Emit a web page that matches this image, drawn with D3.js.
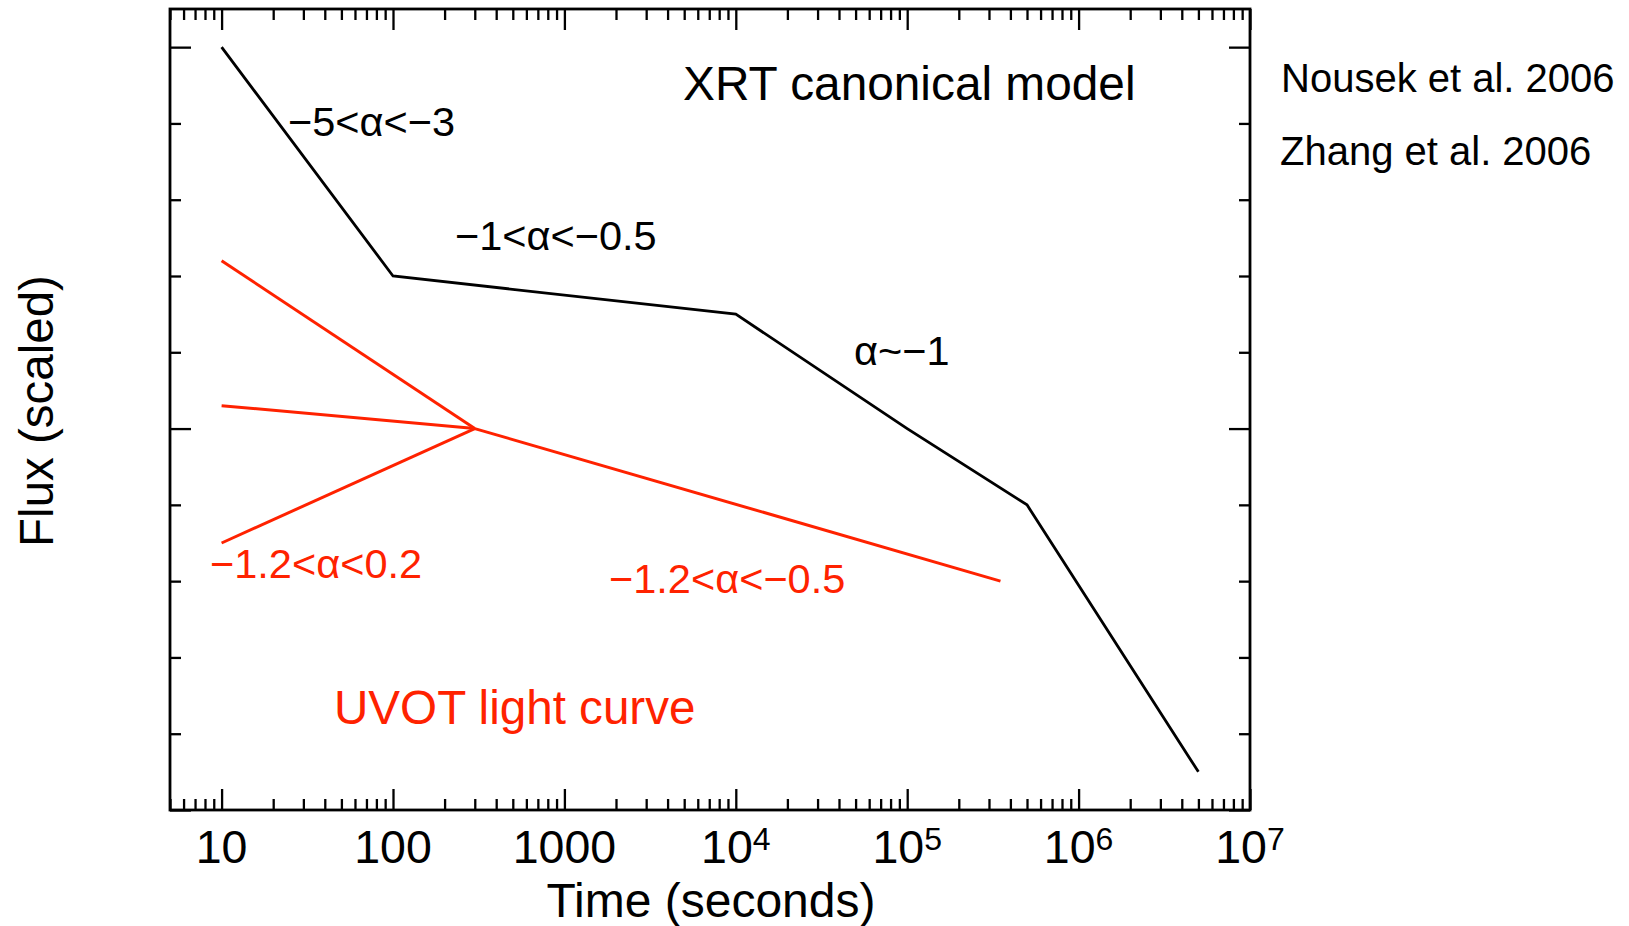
<!DOCTYPE html>
<html>
<head>
<meta charset="utf-8">
<script src="https://cdn.jsdelivr.net/npm/d3@7"></script>
<style>
  html, body { margin: 0; padding: 0; background: #fff; }
  svg { display: block; font-family: "Liberation Sans", Arial, Helvetica, sans-serif; }
</style>
</head>
<body>
<svg id="chart" width="1629" height="926"></svg>
<script>
// X-ray (XRT) canonical light curve: break times and log-flux levels
const xrtTime = [10, 100, 1e4, 1e5, 5e5, 5e6];
const xrtFlux = [10.0, 7.0, 6.5, 5.0, 4.0, 0.5];

// Optical/UV (UVOT) light curve: three early branches meeting at one point, then a single decay
const uvotEarlyTime = [10, 300];
const uvotFadingFlux = [7.2, 5.0];
const uvotFlatFlux = [5.3, 5.0];
const uvotRisingFlux = [3.5, 5.0];
const uvotLateTime = [300, 3.5e5];
const uvotLateFlux = [5.0, 3.0];

// Axis ticks
const xMajorTicks = [10, 100, 1000, 1e4, 1e5, 1e6, 1e7];
const xTickBase = ["10", "100", "1000", "10", "10", "10", "10"];
const xTickExp = ["", "", "", "4", "5", "6", "7"];
const yTicks = [0, 1, 2, 3, 4, 5, 6, 7, 8, 9, 10];
const yMajorTicks = [0, 5, 10];

const RED = "#ff2200";
const svg = d3.select("#chart");

const plotLeft = 170, plotRight = 1250, plotTop = 9, plotBottom = 810;
const x = d3.scaleLog().domain([5, 1e7]).range([plotLeft, plotRight]);
const y = d3.scaleLinear().domain([0, 10.5]).range([plotBottom, plotTop]);

const MAJOR = 21, MINOR = 11;
const xMinorTicks = x.ticks().filter(t => !xMajorTicks.some(m => Math.abs(m - t) / m < 1e-9));
const yMinorTicks = yTicks.filter(t => !yMajorTicks.includes(t));

function styleAxis(g) {
  g.select(".domain").remove();
  g.selectAll(".tick line").attr("stroke", "#000").attr("stroke-width", 2.3);
}

// inward ticks on all four sides: long at major values, short at minor values
const sides = [
  { make: d3.axisBottom, scale: x, t: `translate(0,${plotBottom})`, majors: xMajorTicks, minors: xMinorTicks },
  { make: d3.axisTop, scale: x, t: `translate(0,${plotTop})`, majors: xMajorTicks, minors: xMinorTicks },
  { make: d3.axisLeft, scale: y, t: `translate(${plotLeft},0)`, majors: yMajorTicks, minors: yMinorTicks },
  { make: d3.axisRight, scale: y, t: `translate(${plotRight},0)`, majors: yMajorTicks, minors: yMinorTicks }
];
sides.forEach(s => {
  svg.append("g").attr("transform", s.t)
    .call(s.make(s.scale).tickValues(s.majors).tickSize(-MAJOR).tickFormat(() => ""))
    .call(styleAxis);
  svg.append("g").attr("transform", s.t)
    .call(s.make(s.scale).tickValues(s.minors).tickSize(-MINOR).tickFormat(() => ""))
    .call(styleAxis);
});

// tick labels with superscript exponents
const labelG = svg.append("g").attr("font-size", 46.5).attr("fill", "#000");
xMajorTicks.forEach((t, i) => {
  const txt = labelG.append("text")
    .attr("x", x(t)).attr("y", 863).attr("text-anchor", "middle");
  txt.append("tspan").text(xTickBase[i]);
  if (xTickExp[i]) {
    txt.append("tspan").attr("font-size", 32).attr("dy", -13).text(xTickExp[i]);
  }
});

// frame
svg.append("rect")
  .attr("x", plotLeft).attr("y", plotTop)
  .attr("width", plotRight - plotLeft).attr("height", plotBottom - plotTop)
  .attr("fill", "none").attr("stroke", "#000").attr("stroke-width", 2.8);

// axis titles
svg.append("text")
  .attr("x", 711).attr("y", 917).attr("text-anchor", "middle")
  .attr("font-size", 48).text("Time (seconds)");
svg.append("text")
  .attr("transform", "translate(53,411) rotate(-90)").attr("text-anchor", "middle")
  .attr("font-size", 47.5).text("Flux (scaled)");

// curves
const line = d3.line().x(d => x(d[0])).y(d => y(d[1]));
const pairs = (ts, fs) => ts.map((t, i) => [t, fs[i]]);

svg.append("path").datum(pairs(xrtTime, xrtFlux))
  .attr("d", line).attr("fill", "none").attr("stroke", "#000")
  .attr("stroke-width", 2.8).attr("stroke-linejoin", "miter");

[uvotFadingFlux, uvotFlatFlux, uvotRisingFlux].forEach(fs => {
  svg.append("path").datum(pairs(uvotEarlyTime, fs))
    .attr("d", line).attr("fill", "none").attr("stroke", RED).attr("stroke-width", 3);
});
svg.append("path").datum(pairs(uvotLateTime, uvotLateFlux))
  .attr("d", line).attr("fill", "none").attr("stroke", RED).attr("stroke-width", 3);

// annotations
const notes = [
  { text: "XRT canonical model", x: 683, y: 100, size: 47.8, color: "#000" },
  { text: "\u22125<\u03b1<\u22123", x: 288, y: 136, size: 41.5, color: "#000" },
  { text: "\u22121<\u03b1<\u22120.5", x: 455, y: 250, size: 41.5, color: "#000" },
  { text: "\u03b1~\u22121", x: 854, y: 365, size: 41.5, color: "#000" },
  { text: "Nousek et al. 2006", x: 1281, y: 92, size: 40, color: "#000" },
  { text: "Zhang et al. 2006", x: 1280, y: 165, size: 40, color: "#000" },
  { text: "\u22121.2<\u03b1<0.2", x: 210, y: 578, size: 41.5, color: RED },
  { text: "\u22121.2<\u03b1<\u22120.5", x: 609, y: 593, size: 41.5, color: RED },
  { text: "UVOT light curve", x: 334, y: 724, size: 47.6, color: RED }
];
svg.append("g").selectAll("text").data(notes).join("text")
  .attr("x", d => d.x).attr("y", d => d.y)
  .attr("font-size", d => d.size).attr("fill", d => d.color)
  .text(d => d.text);
</script>
</body>
</html>
